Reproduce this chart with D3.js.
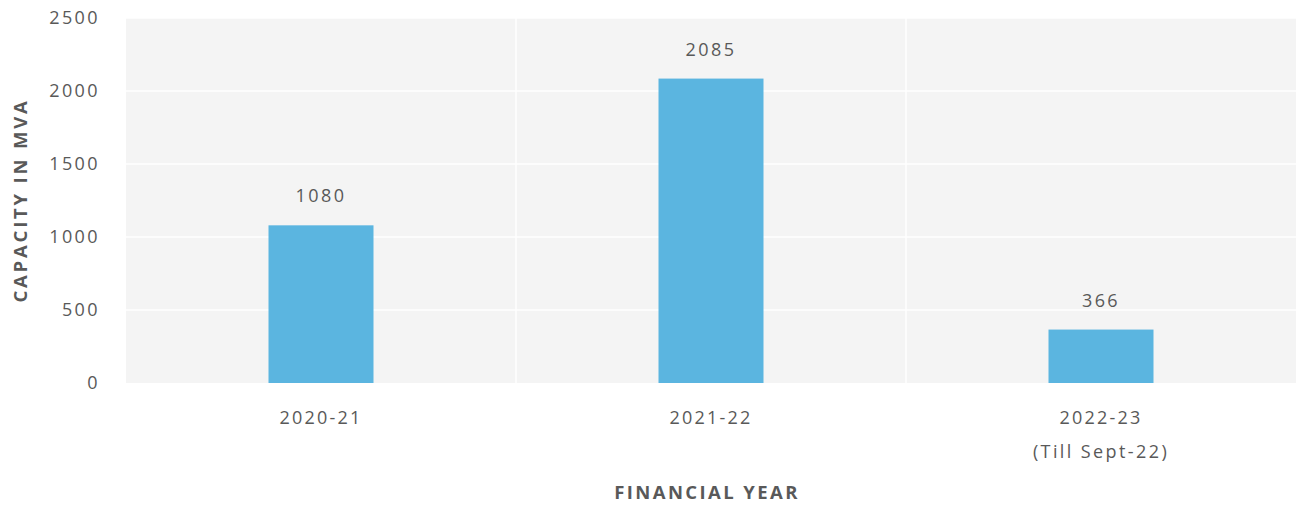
<!DOCTYPE html>
<html>
<head>
<meta charset="utf-8">
<script src="https://cdn.jsdelivr.net/npm/d3@7"></script>
<style>
  html, body { margin: 0; padding: 0; background: #ffffff; }
  svg { display: block; }
  text { font-family: "Open Sans", "Liberation Sans", sans-serif; fill: #595959; }
</style>
</head>
<body>
<svg id="chart" width="1296" height="507"></svg>
<script>
// Transformer capacity added per financial year (MVA)
const years = ["2020-21", "2021-22", "2022-23"];
const yearNotes = ["", "", "(Till Sept-22)"];
const capacity = [1080, 2085, 366];
const yTicks = [0, 500, 1000, 1500, 2000, 2500];

const svg = d3.select("#chart");
const plot = { left: 126, right: 1296, top: 18, bottom: 383 };

const x = d3.scaleBand()
  .domain(years)
  .range([plot.left, plot.right])
  .paddingInner(0)
  .paddingOuter(0);

const y = d3.scaleLinear()
  .domain([0, 2500])
  .range([plot.bottom, plot.top]);

// plot area background
svg.append("rect")
  .attr("x", plot.left)
  .attr("y", plot.top)
  .attr("width", plot.right - plot.left)
  .attr("height", plot.bottom - plot.top)
  .attr("fill", "#f4f4f4");

// horizontal gridlines
svg.append("g")
  .selectAll("line")
  .data(yTicks.filter(d => d > 0))
  .join("line")
  .attr("x1", plot.left)
  .attr("x2", plot.right)
  .attr("y1", d => y(d))
  .attr("y2", d => y(d))
  .attr("stroke", "#ffffff")
  .attr("stroke-width", 1.5);

// vertical gridlines between categories
svg.append("g")
  .selectAll("line")
  .data(years.slice(1))
  .join("line")
  .attr("x1", d => x(d))
  .attr("x2", d => x(d))
  .attr("y1", plot.top)
  .attr("y2", plot.bottom)
  .attr("stroke", "#ffffff")
  .attr("stroke-width", 1.5);

// y axis tick labels
const yAxis = d3.axisLeft(y)
  .tickValues(yTicks)
  .tickFormat(d3.format("d"))
  .tickSize(0)
  .tickPadding(26);
const yG = svg.append("g")
  .attr("transform", `translate(${plot.left},0)`)
  .call(yAxis);
yG.select(".domain").remove();
yG.selectAll("text")
  .attr("font-size", 18)
  .attr("letter-spacing", 2.4)
  .attr("fill", "#666666")
  .style("font-family", "'Open Sans', sans-serif");

// bars
const barW = 105;
svg.append("g")
  .selectAll("rect")
  .data(years)
  .join("rect")
  .attr("x", (d) => x(d) + x.bandwidth() / 2 - barW / 2)
  .attr("width", barW)
  .attr("y", (d, i) => y(capacity[i]))
  .attr("height", (d, i) => y(0) - y(capacity[i]))
  .attr("fill", "#5bb5e0");

// value labels
svg.append("g")
  .selectAll("text")
  .data(years)
  .join("text")
  .attr("x", d => x(d) + x.bandwidth() / 2)
  .attr("y", (d, i) => y(capacity[i]) - 23)
  .attr("text-anchor", "middle")
  .attr("font-size", 18)
  .attr("letter-spacing", 2.4)
  .attr("fill", "#555555")
  .text((d, i) => capacity[i]);

// x axis category labels
const xG = svg.append("g");
xG.selectAll("text.cat")
  .data(years)
  .join("text")
  .attr("class", "cat")
  .attr("x", d => x(d) + x.bandwidth() / 2)
  .attr("y", 424)
  .attr("text-anchor", "middle")
  .attr("font-size", 18)
  .attr("letter-spacing", 2.2)
  .attr("fill", "#666666")
  .text(d => d);
xG.selectAll("text.note")
  .data(years.filter((d, i) => yearNotes[i]))
  .join("text")
  .attr("class", "note")
  .attr("x", d => x(d) + x.bandwidth() / 2)
  .attr("y", 458)
  .attr("text-anchor", "middle")
  .attr("font-size", 18)
  .attr("letter-spacing", 2.4)
  .attr("fill", "#666666")
  .text(d => yearNotes[years.indexOf(d)]);

// axis titles
svg.append("text")
  .attr("x", (plot.left + plot.right) / 2 - 4)
  .attr("y", 499)
  .attr("text-anchor", "middle")
  .attr("font-size", 18.5)
  .attr("font-weight", "bold")
  .attr("letter-spacing", 2.4)
  .attr("fill", "#595959")
  .text("FINANCIAL YEAR");

svg.append("text")
  .attr("transform", `translate(27,${(plot.top + plot.bottom) / 2}) rotate(-90)`)
  .attr("text-anchor", "middle")
  .attr("font-size", 18.5)
  .attr("font-weight", "bold")
  .attr("letter-spacing", 2.8)
  .attr("fill", "#595959")
  .text("CAPACITY IN MVA");
</script>
</body>
</html>
